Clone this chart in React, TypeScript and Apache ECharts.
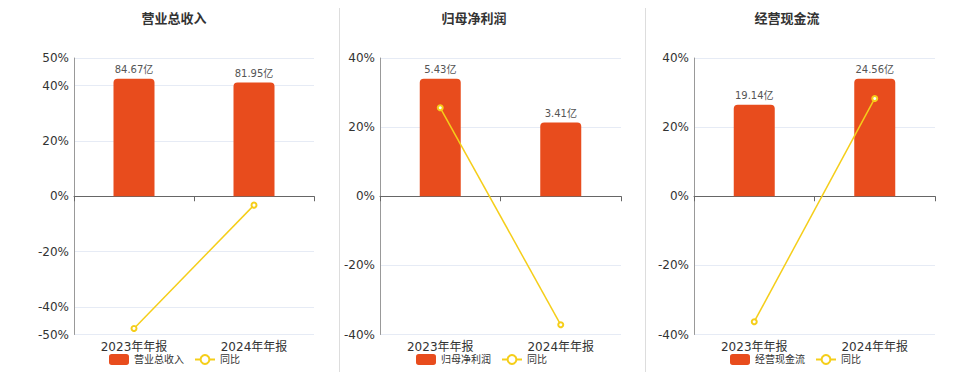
import React, { useEffect, useRef } from "react";
import * as echarts from "echarts";

const categories = ["2023年年报", "2024年年报"];
const titles = ["营业总收入", "归母净利润", "经营现金流"];
const barValues1 = [84.67, 81.95];
const barValues2 = [5.43, 3.41];
const barValues3 = [19.14, 24.56];
const yoy1 = [-47.8, -3.21];
const yoy2 = [25.6, -37.2];
const yoy3 = [-36.3, 28.3];
const pctRanges = [
  [-50, 50],
  [-40, 40],
  [-40, 40],
];

const barSets = [barValues1, barValues2, barValues3];
const yoySets = [yoy1, yoy2, yoy3];

const gridLefts = [74, 380, 694];
const gridWidths = [240, 241, 241];
const titleCenters = [174, 474, 787];
const legendLefts = [104, 411, 725];

const BAR_COLOR = "#E84C1D";
const LINE_COLOR = "#F5CE1A";
const FONT = "'DejaVu Sans', 'Noto Sans CJK SC', sans-serif";

export default function App() {
  const ref = useRef<HTMLDivElement>(null);
  useEffect(() => {
    if (!ref.current) return;
    const chart = echarts.init(ref.current, undefined, { renderer: "svg" });
    const grid: any[] = [];
    const xAxis: any[] = [];
    const yAxis: any[] = [];
    const series: any[] = [];
    const legend: any[] = [];
    const graphic: any[] = [];
    for (let i = 0; i < 3; i++) {
      grid.push({ left: gridLefts[i], width: gridWidths[i], top: 58, bottom: 37.5 });
      xAxis.push({
        type: "category",
        gridIndex: i,
        data: categories,
        position: "bottom",
        axisLine: { show: false, onZero: false },
        axisTick: { show: false },
        axisLabel: { fontSize: 12, color: "#333", margin: 6, fontFamily: FONT },
      });
      xAxis.push({
        type: "category",
        gridIndex: i,
        data: categories,
        position: "bottom",
        axisLine: { show: true, onZero: true, onZeroAxisIndex: i * 2, lineStyle: { color: "#666", width: 1 } },
        axisTick: { show: true, length: 5, lineStyle: { color: "#666" } },
        axisLabel: { show: false },
        splitLine: { show: false },
      });
      const maxBar = Math.max(...barSets[i].map((v) => Math.abs(v)));
      const M = maxBar / 0.85;
      yAxis.push({
        type: "value",
        gridIndex: i,
        min: pctRanges[i][0],
        max: pctRanges[i][1],
        axisLine: { show: true, lineStyle: { color: "#999" } },
        axisTick: { show: false },
        axisLabel: { formatter: "{value}%", fontSize: 12, color: "#333", margin: 5, fontFamily: FONT },
        splitLine: { show: true, lineStyle: { color: "#E6EBF5" } },
      });
      yAxis.push({
        type: "value",
        gridIndex: i,
        min: -M,
        max: M,
        show: false,
        splitLine: { show: false },
      });
      series.push({
        type: "bar",
        name: titles[i],
        xAxisIndex: i * 2,
        yAxisIndex: i * 2 + 1,
        data: barSets[i],
        barWidth: 41,
        itemStyle: { color: BAR_COLOR, borderRadius: [4, 4, 0, 0] },
        label: {
          show: true,
          position: "top",
          distance: 4,
          fontSize: 10,
          color: "#555",
          fontFamily: FONT,
          formatter: (p: any) => p.value + "亿",
        },
      });
      series.push({
        type: "line",
        name: "同比",
        xAxisIndex: i * 2,
        yAxisIndex: i * 2,
        data: yoySets[i],
        symbol: "emptyCircle",
        symbolSize: 5,
        lineStyle: { color: LINE_COLOR, width: 1.5 },
        itemStyle: { color: LINE_COLOR },
      });
      legend.push({
        left: legendLefts[i],
        top: 349,
        itemWidth: 20,
        itemHeight: 11,
        itemGap: 10,
        data: [{ name: titles[i], icon: "roundRect" }, { name: "同比" }],
        textStyle: { fontSize: 10, color: "#333", fontFamily: FONT },
        selectedMode: false,
      });
      graphic.push({
        type: "text",
        x: titleCenters[i],
        y: 12,
        style: {
          text: titles[i],
          fontSize: 13,
          fontWeight: "bold",
          fill: "#333",
          fontFamily: FONT,
          textAlign: "center",
          textVerticalAlign: "top",
        },
      });
    }
    graphic.push({
      type: "line",
      shape: { x1: 339.5, y1: 8, x2: 339.5, y2: 372 },
      style: { stroke: "#DDD", lineWidth: 1 },
    });
    graphic.push({
      type: "line",
      shape: { x1: 645.5, y1: 8, x2: 645.5, y2: 372 },
      style: { stroke: "#DDD", lineWidth: 1 },
    });
    chart.setOption({
      animation: false,
      textStyle: { fontFamily: FONT },
      grid,
      xAxis,
      yAxis,
      series,
      legend,
      graphic,
    });
    return () => chart.dispose();
  }, []);
  return (
    <div
      ref={ref}
      style={{ width: 960, height: 372, position: "absolute", left: 0, top: 0 }}
    />
  );
}
